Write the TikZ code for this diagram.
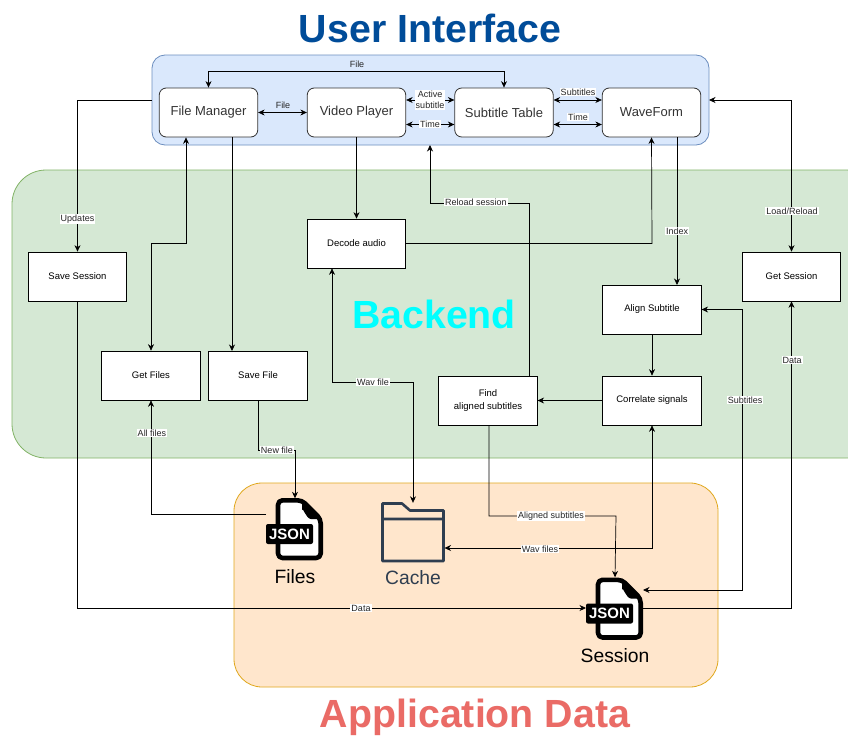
\documentclass[tikz,border=0pt]{standalone}
\usepackage{fontspec}
\setmainfont{Liberation Sans}
\usetikzlibrary{arrows.meta,calc}
\definecolor{uifill}{HTML}{DAE8FC}\definecolor{uiline}{HTML}{6C8EBF}
\definecolor{befill}{HTML}{D5E8D4}\definecolor{beline}{HTML}{82B366}
\definecolor{adfill}{HTML}{FFE6CC}\definecolor{adline}{HTML}{E0A81E}
\definecolor{folder}{HTML}{2F3E50}
\definecolor{titleblue}{HTML}{004C99}
\definecolor{titlecyan}{HTML}{00FFFF}
\definecolor{titlered}{HTML}{EA6B66}
\tikzset{
 x=1pt,y=-1pt,
 conn/.style={draw=black,line width=0.7pt,-{Stealth[length=6.5pt,width=6pt]}},
 bidir/.style={draw=black,line width=0.7pt,{Stealth[length=6.5pt,width=6pt]}-{Stealth[length=6.5pt,width=6pt]}},
 uibox/.style={draw=black!80,line width=0.8pt,fill=white,rounded corners=7pt,minimum width=98.5pt,minimum height=49pt,inner sep=0pt,font=\fontsize{13}{15}\selectfont,text=black!80},
 bebox/.style={draw=black,line width=0.7pt,fill=white,minimum width=98.5pt,minimum height=49pt,inner sep=0pt,align=center,font=\fontsize{9.5}{13.5}\selectfont},
 lbl/.style={fill=white,inner sep=1pt,align=center,font=\fontsize{9}{11.5}\selectfont,text=black!85},
 panel/.style={line width=0.8pt},
 bigtitle/.style={inner sep=0pt,font=\bfseries\fontsize{39.3}{42}\selectfont},
 captext/.style={inner sep=0pt,font=\fontsize{19.3}{22}\selectfont},
 anchorbox/.style={inner sep=0pt,minimum width=#1,minimum height=62pt},
}
\newcommand{\jsonicon}[2]{%
 \begin{scope}[shift={(#1,#2)}]
  \draw[line width=4.6pt,fill=white,rounded corners=4.5pt,line join=round] (14,2.3) -- (38,2.3) -- (56.7,21) -- (56.7,60) -- (14,60) -- cycle;
  \fill[black,line join=round] (38,1) -- (58,21) -- (47,21) to[out=180,in=90] (38,12) -- cycle;
  \node[fill=black,rounded corners=2pt,text=white,inner sep=0pt,minimum width=47pt,minimum height=20pt,font=\bfseries\fontsize{15}{16}\selectfont] at (25.5,36) {JSON};
 \end{scope}}
\begin{document}
\begin{tikzpicture}
\path[use as bounding box,clip] (0,0) rectangle (848,736);
\fill[white] (0,0) rectangle (848,736);
% panels
\path[panel,draw=beline,fill=befill,rounded corners=34pt] (12,170) rectangle (880,458);
\path[panel,draw=adline,fill=adfill,rounded corners=28pt] (234,483) rectangle (718,687);
\path[panel,draw=uiline,fill=uifill,rounded corners=13pt] (152,55) rectangle (709,145);
\node[bigtitle,text=titleblue] (tui) at (430,28) {User Interface};
\node[bigtitle,text=titlecyan] (tbe) at (434,314) {Backend};
\node[bigtitle,text=titlered] (tad) at (475,717.5) {Application Data};
\coordinate (uipanel) at (430,145);
\coordinate (uileft) at (152,100);
\coordinate (uiright) at (709,100);
% UI nodes
\node[uibox] (fm) at (208.5,112.5) {File Manager};
\node[uibox] (vp) at (356.5,112.5) {Video Player};
\node[uibox] (st) at (504,112.5) {Subtitle Table};
\node[uibox] (wf) at (651.5,112.5) {WaveForm};
% backend nodes
\node[bebox] (da) at (356.5,243.5) {Decode audio};
\node[bebox] (ss) at (77.5,276.5) {Save Session};
\node[bebox] (gf) at (151,375.5) {Get Files};
\node[bebox] (sf) at (258,375.5) {Save File};
\node[bebox] (fa) at (488,400.5) {Find\\aligned subtitles};
\node[bebox] (cs) at (652,400.5) {Correlate signals};
\node[bebox] (as) at (652,309.5) {Align Subtitle};
\node[bebox] (gs) at (791.5,276.5) {Get Session};
% icons
\jsonicon{264}{498}
\jsonicon{584}{577.5}
\node[anchorbox=57pt] (files) at (295,529.5) {};
\node[anchorbox=57pt] (sess) at (615,608.5) {};
\node[inner sep=0pt,minimum width=62pt,minimum height=58pt] (cache) at (413,532) {};
\draw[folder,line width=2.6pt,line join=round] (382.5,561) -- (382.5,503.5) -- (402,503.5) -- (410,510.5) -- (443.5,510.5) -- (443.5,561) -- cycle (382.5,519) -- (443.5,519);
\node[captext] (tf) at (295,577) {Files};
\node[captext,text=folder] (tc) at (413,578) {Cache};
\node[captext] (ts) at (615,656) {Session};
% connectors within UI
\draw[bidir] (fm.north) -- (208.5,71) -- (504,71) -- (st.north);
\draw[bidir] (fm.east) -- (vp.west);
\draw[bidir] ([yshift=12.5pt]vp.east) -- ([yshift=12.5pt]st.west);
\draw[bidir] ([yshift=-12pt]vp.east) -- ([yshift=-12pt]st.west);
\draw[bidir] ([yshift=12.5pt]st.east) -- ([yshift=12.5pt]wf.west);
\draw[bidir] ([yshift=-12pt]st.east) -- ([yshift=-12pt]wf.west);
% UI to backend
\draw[conn] (uileft) -- (77.5,100) -- (ss.north);
\draw[bidir] ([xshift=-22.5pt]fm.south) -- (186,243) -- (151,243) -- (gf.north);
\draw[conn] ([xshift=23.5pt]fm.south) -- (232,351);
\draw[conn] (vp.south) -- (da.north);
\draw[conn] (da.east) -- (652,243.5) -- (wf.south);
\draw[conn] ([xshift=25.5pt]wf.south) -- (677,285);
\draw[conn] (529,376) -- (529,203) -- (430,203) -- (uipanel);
\draw[bidir] (uiright) -- (791.5,100) -- (gs.north);
\draw[conn] (as.south) -- (cs.north);
\draw[conn] (cs.west) -- (fa.east);
% backend to data
\draw[bidir] (as.east) -- (742,309.5) -- (742,590) -- (643,590);
\draw[conn] (643,608) -- (791.5,608) -- (gs.south);
\draw[conn] (ss.south) -- (77.5,608) -- (586,608);
\draw[conn] (266,514) -- (151,514) -- (gf.south);
\draw[conn] (sf.south) -- (258,450) -- (295,450) -- (files.north);
\draw[bidir] ([xshift=-24.5pt]da.south) -- (332,382) -- (413,382) -- (cache.north);
\draw[bidir] (cs.south) -- (652,548) -- (444.5,548);
\draw[conn] ([xshift=1pt]fa.south) -- (489,516) -- (616,516) -- (sess.north);
% labels
\node[lbl,fill=uifill] (l1) at (357,64) {File};
\node[lbl,fill=uifill] (l2) at (283,105) {File};
\node[lbl] (l3) at (430,100) {Active\\subtitle};
\node[lbl] (l4) at (430,124) {Time};
\node[lbl] (l5) at (578,92) {Subtitles};
\node[lbl] (l6) at (578,117) {Time};
\node[lbl] (l7) at (77.5,219) {Updates};
\node[lbl] (l8) at (677,231) {Index};
\node[lbl] (l9) at (476,202) {Reload session};
\node[lbl] (l10) at (792,211) {Load/Reload};
\node[lbl] (l11) at (745,400) {Subtitles};
\node[lbl] (l12) at (792,360) {Data};
\node[lbl] (l13) at (361,608) {Data};
\node[lbl] (l14) at (152,433) {All files};
\node[lbl] (l15) at (277,450) {New file};
\node[lbl] (l16) at (373,382) {Wav file};
\node[lbl] (l17) at (540,549) {Wav files};
\node[lbl] (l18) at (551,516) {Aligned subtitles};
\end{tikzpicture}
\end{document}
